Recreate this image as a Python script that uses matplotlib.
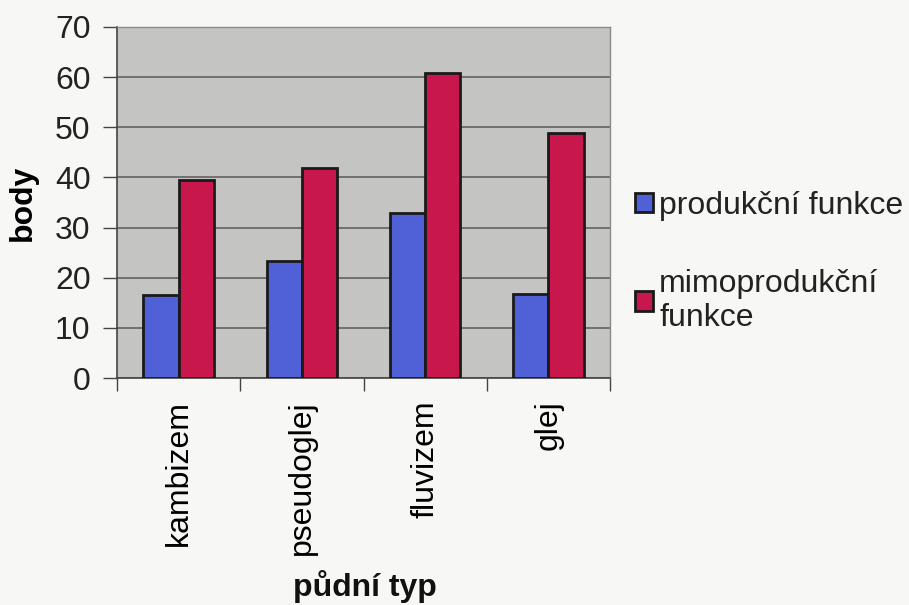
import numpy as np
import matplotlib.pyplot as plt

plt.rcParams['font.family'] = ['Liberation Sans', 'DejaVu Sans']

categories = ['kambizem', 'pseudoglej', 'fluvizem', 'glej']
produkcni = [16.6, 23.4, 33.0, 16.8]
mimoprodukcni = [39.4, 41.9, 60.9, 48.8]
series_names = ['produkční funkce', 'mimoprodukční\nfunkce']

fs = 23

fig = plt.figure(figsize=(9.09, 6.05), dpi=100)
fig.patch.set_facecolor('#f7f7f5')
ax = fig.add_axes([0.1287, 0.3752, 0.5424, 0.5802])
ax.set_facecolor('#c4c4c2')

x = np.arange(len(categories))
w = 1 / 3.5
b1 = ax.bar(x - w / 2, produkcni, w, color='#5060d6', edgecolor='#1a1a1a',
            linewidth=2, zorder=3, label=series_names[0])
b2 = ax.bar(x + w / 2, mimoprodukcni, w, color='#c8174c', edgecolor='#1a1a1a',
            linewidth=2, zorder=3, label=series_names[1])

ax.set_xlim(-0.5, len(categories) - 0.5)
ax.set_ylim(0, 70)
ax.set_yticks(range(0, 71, 10))
ax.yaxis.grid(True, color='#6a6a6a', linewidth=1.3, zorder=1)

# category boundaries get the tick marks, names sit between them
ax.set_xticks(np.arange(-0.5, len(categories)), minor=False)
ax.set_xticklabels([])
ax.set_xticks(x, minor=True)
ax.set_xticklabels(categories, minor=True, rotation=90, fontsize=fs)
ax.tick_params(axis='x', which='minor', length=0, pad=16)
ax.tick_params(axis='x', which='major', length=9, width=1, color='#444444')
ax.tick_params(axis='y', length=10, width=1, color='#444444', labelsize=fs,
               pad=9, labelcolor='#222222')

for s in ['top', 'right']:
    ax.spines[s].set_color('#8a8a8a')
    ax.spines[s].set_linewidth(1)
for s in ['left', 'bottom']:
    ax.spines[s].set_color('#444444')
    ax.spines[s].set_linewidth(1.2)

ax.set_ylabel('body', fontsize=fs, fontweight='bold', labelpad=12)
fig.text(0.402, 0.004, 'půdní typ', fontsize=fs, fontweight='bold',
         ha='center', va='bottom', color='#111111')

fig.legend(handles=[b1, b2], loc='center left', bbox_to_anchor=(0.667, 0.567),
           frameon=False, fontsize=fs, handlelength=0.55, handleheight=0.55,
           handletextpad=0.2, labelspacing=1.5, labelcolor='#222222')

fig.savefig('out.png', dpi=100, facecolor=fig.get_facecolor())
